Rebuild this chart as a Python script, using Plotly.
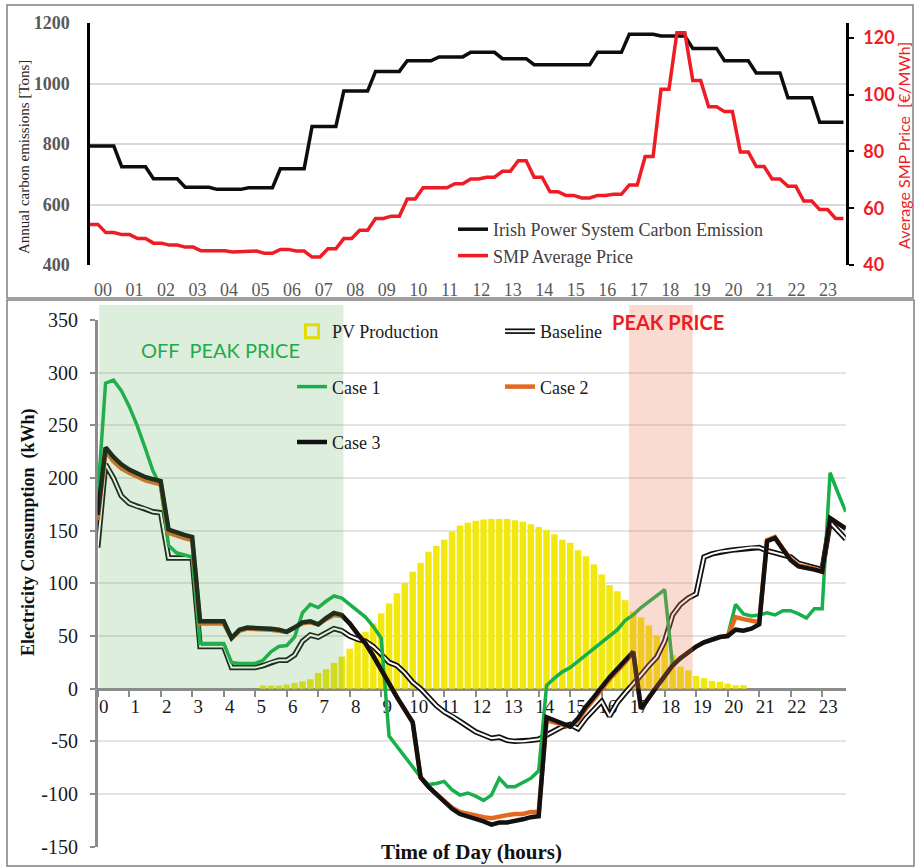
import numpy as np
import plotly.graph_objects as go

# ---------------- top panel: Irish system carbon and SMP price ----------------
hour_labels = ["00", "01", "02", "03", "04", "05", "06", "07", "08", "09", "10", "11",
               "12", "13", "14", "15", "16", "17", "18", "19", "20", "21", "22", "23"]

# hourly system carbon emission (tons)
carbon_tons = [793, 725, 685, 657, 650, 655, 718, 858, 975, 1040, 1075, 1088,
               1103, 1082, 1062, 1062, 1103, 1163, 1157, 1116, 1075, 1035, 953, 872]

# half-hourly SMP average price (EUR/MWh)
smp_price = [54.3, 51.4, 50.7, 49.3, 47.7, 47.0, 46.3, 45.0, 45.0, 44.6, 44.9, 44.1,
             45.5, 44.9, 42.8, 45.7, 49.3, 52.2, 56.4, 57.2, 63.2, 67.2, 67.2, 68.6,
             70.3, 70.9, 73.0, 76.7, 70.9, 65.8, 64.5, 63.6, 64.5, 64.9, 68.2, 78.2,
             101.9, 121.8, 105.0, 95.7, 94.0, 79.8, 74.7, 70.3, 67.7, 62.5, 59.5, 56.4]

# ---------------- bottom panel: quarter-hourly consumption (kWh) ----------------
pv_kwh = [0, 0, 0, 0, 0, 0, 0, 0, 0, 0, 0, 0,
          0, 0, 0, 0, 0, 0, 0, 0, 0, 3, 3, 3,
          4, 5.5, 7, 9, 15, 18.5, 24.5, 30.5, 38, 46, 54, 62,
          71.5, 81, 90.5, 100.5, 111, 119.5, 130, 135.5, 141.5, 149, 155, 157.5,
          159.5, 160.5, 161, 161, 161, 160, 158.5, 156, 153.5, 151, 146.5, 141.5,
          138.5, 131.5, 125.8, 118, 108.5, 98.3, 92.6, 84, 73, 67.6, 60, 50.5,
          43, 31.8, 21, 17.5, 12, 10, 7.4, 6.5, 4.9, 3.3, 3.3, 0,
          0, 0, 0, 0, 0, 0, 0, 0, 0, 0, 0, 0]

baseline_kwh = [134, 213, 200, 183, 176, 173, 171, 168, 167, 124, 124, 124,
                124, 40, 40, 40, 40, 20, 20, 20, 20, 22, 25, 27,
                27, 32, 45, 51, 49, 53, 57, 55, 50, 47, 45, 40,
                33, 25, 22, 15, 6, 0, -8, -16, -22, -26, -31, -36,
                -41, -44, -47, -46, -49, -50, -50, -49, -48, -44, -40, -36,
                -34, -38, -28, -20, -12, -26, -13, -4, 4, 13, 22, 30,
                45, 70, 80, 86, 90, 125, 128, 130, 131, 132, 133, 134,
                134, 131, 129, 127, 125, 119, 117, 115, 113, 158, 150, 142]

case1_kwh = [182, 290, 293, 283, 268, 250, 229, 207, 192, 136, 129, 127,
             125, 43, 43, 43, 43, 25, 24, 24, 24, 27, 35, 40,
             41, 49, 72, 80, 77, 83, 88, 86, 80, 74, 68, 59,
             48, -45, -55, -65, -75, -84, -91, -90, -88, -96, -101, -99,
             -102, -106, -101, -85, -93, -93, -89, -85, -78, 3, 10, 16,
             20, 26, 31, 37, 43, 49, 56, 65, 70, 77, 83, 88,
             94, 22, 29, 35, 40, 44, 47, 49, 50, 80, 71, 69,
             70, 72, 70, 74, 74, 71, 67, 76, 76, 205, 186, 168]

case2_kwh = [160, 226, 216, 209, 205, 201, 198, 196, 194, 148, 145, 143,
             141, 62, 62, 62, 62, 48, 55, 57, 57, 57, 56, 55,
             54, 58, 62, 63, 61, 66, 70, 69, 62, 52, 43, 31,
             17, 5, -8, -20, -32, -84, -93, -100, -107, -113, -117, -119,
             -121, -122, -123, -121, -120, -119, -119, -117, -117, -30, -32, -35,
             -36, -30, -19, -10, 0, 9, 17, 25, 35, -19, -8, 2,
             12, 22, 29, 35, 40, 44, 47, 49, 50, 68, 66, 64,
             63, 141, 144, 133, 123, 117, 116, 114, 111, 162, 157, 152]

case3_kwh = [165, 229, 220, 213, 208, 204, 201, 199, 197, 151, 148, 146,
             144, 64, 64, 64, 64, 48, 56, 58, 58, 58, 57, 56,
             54, 58, 63, 64, 61, 67, 72, 70, 62, 52, 43, 31,
             17, 5, -8, -20, -32, -84, -93, -100, -107, -114, -119, -121,
             -123, -126, -129, -127, -127, -126, -124, -122, -121, -27, -30, -33,
             -36, -28, -17, -8, 2, 11, 19, 27, 35, -19, -8, 2,
             12, 22, 29, 35, 40, 44, 47, 49, 50, 56, 55, 57,
             61, 140, 143, 132, 122, 116, 115, 113, 111, 162, 157, 152]

hour_ticks = list(range(24))
kwh_ticks = [-150, -100, -50, 0, 50, 100, 150, 200, 250, 300, 350]
kwh_tick_text = ["-150", "-100", "-50", "0", "50", "100", "150", "200", "250", "300", "350"]

# quarter-hour time base; hourly / half-hourly records are held over their quarters
quarter = np.arange(96) / 4.0
carbon_q = np.repeat(carbon_tons, 4)
smp_q = np.repeat(smp_price, 2)

W, H = 915, 867


def fx(p):
    return p / W


def fy(p):
    return 1 - p / H


SERIF = "Liberation Serif"
SANS = "Lato"

top_dom_x = [fx(90), fx(846)]
top_dom_y = [fy(265), fy(23)]
bot_dom_x = [fx(97.7), fx(845.8)]
bot_dom_y = [fy(846.7), fy(320)]
bot_range = [-150, 350]
zero_pos = bot_dom_y[0] + (0 - bot_range[0]) / (bot_range[1] - bot_range[0]) * (bot_dom_y[1] - bot_dom_y[0])

fig = go.Figure()

# top panel traces
fig.add_trace(go.Scatter(x=quarter, y=carbon_q, xaxis="x", yaxis="y", mode="lines",
                         line=dict(color="#0d0d0d", width=3.5),
                         name="Irish Power System Carbon Emission", legend="legend4"))
fig.add_trace(go.Scatter(x=quarter, y=smp_q, xaxis="x", yaxis="y2", mode="lines",
                         line=dict(color="#ee1c25", width=3.5),
                         name="SMP Average Price", legend="legend4"))

# bottom panel traces
fig.add_trace(go.Bar(x=quarter, y=pv_kwh, xaxis="x2", yaxis="y3", width=0.205,
                     marker=dict(color="#f2e80d", line=dict(width=0)),
                     name="PV Production", legendgroup="pv", showlegend=False, legend="legend"))
fig.add_trace(go.Scatter(x=[None], y=[None], xaxis="x2", yaxis="y3", mode="markers",
                         marker=dict(symbol="square-open", size=13, color="#e3dc00",
                                     line=dict(width=3, color="#e3dc00")),
                         name="PV Production", legendgroup="pv", legend="legend"))
fig.add_trace(go.Scatter(x=quarter, y=baseline_kwh, xaxis="x2", yaxis="y3", mode="lines",
                         line=dict(color="#111111", width=5.5),
                         name="Baseline", legendgroup="base", legend="legend2"))
fig.add_trace(go.Scatter(x=quarter, y=baseline_kwh, xaxis="x2", yaxis="y3", mode="lines",
                         line=dict(color="#ffffff", width=2),
                         name=" ", legendgroup="base", legend="legend3"))
fig.add_trace(go.Scatter(x=quarter, y=case1_kwh, xaxis="x2", yaxis="y3", mode="lines",
                         line=dict(color="#17b04a", width=3.5),
                         name="Case 1", legendgroup="c1", legend="legend"))
fig.add_trace(go.Scatter(x=quarter, y=case2_kwh, xaxis="x2", yaxis="y3", mode="lines",
                         line=dict(color="#e2691f", width=4.5),
                         name="Case 2", legendgroup="c2", legend="legend2"))
fig.add_trace(go.Scatter(x=quarter, y=case3_kwh, xaxis="x2", yaxis="y3", mode="lines",
                         line=dict(color="#111111", width=4.5),
                         name="Case 3", legendgroup="c3", legend="legend"))

legend_font = dict(family=SERIF, size=18, color="#1a1a1a")
bottom_legend = dict(xanchor="left", yanchor="top", bgcolor="rgba(0,0,0,0)",
                     borderwidth=0, font=legend_font, tracegroupgap=29,
                     traceorder="grouped", itemwidth=30, y=fy(313))

fig.update_layout(
    width=W, height=H,
    margin=dict(l=0, r=0, t=0, b=0, autoexpand=False),
    paper_bgcolor="white", plot_bgcolor="rgba(0,0,0,0)",
    barmode="overlay",
    hovermode=False,
    xaxis=dict(domain=top_dom_x, anchor="y", range=[0, 23.83], automargin=False,
               tickvals=[0.41 + 0.9935 * k for k in range(24)], ticktext=hour_labels,
               ticks="", showgrid=False, zeroline=False, showline=False,
               tickfont=dict(family=SERIF, size=18, color="#595959"),
               ticklabelstandoff=12),
    yaxis=dict(domain=top_dom_y, anchor="x", range=[400, 1200], dtick=200, automargin=False,
               showline=True, linecolor="#000000", linewidth=2.5,
               showgrid=True, gridcolor="#d9d9d9", gridwidth=1.5, zeroline=False,
               ticks="", tickfont=dict(family=SERIF, size=18, color="#595959", weight="bold"),
               ticklabelstandoff=14),
    yaxis2=dict(overlaying="y", anchor="x", side="right", range=[40, 125.2], automargin=False,
                tickvals=[40, 60, 80, 100, 120],
                showline=True, linecolor="#000000", linewidth=2.5,
                ticks="outside", ticklen=5, tickcolor="#000000", tickwidth=2,
                showgrid=False, zeroline=False,
                tickfont=dict(family=SANS, size=18, color="#ee1c25", weight="bold"),
                ticklabelstandoff=6),
    xaxis2=dict(domain=bot_dom_x, anchor="free", position=zero_pos, range=[0, 23.75],
                automargin=False,
                tickvals=hour_ticks, ticktext=[str(h) for h in hour_ticks],
                ticks="outside", ticklen=6, tickwidth=1.5, tickcolor="#8c8c8c",
                showline=True, linecolor="#8c8c8c", linewidth=3,
                showgrid=False, zeroline=False, layer="below traces",
                tickfont=dict(family=SERIF, size=19, color="#1a1a1a"),
                ticklabelshift=6, ticklabelstandoff=-6),
    yaxis3=dict(domain=bot_dom_y, anchor="x2", range=bot_range, automargin=False,
                tickvals=kwh_ticks, ticktext=kwh_tick_text,
                showline=True, linecolor="#8c8c8c", linewidth=2.5,
                ticks="outside", ticklen=5, tickcolor="#8c8c8c", tickwidth=1.5,
                showgrid=True, gridcolor="#e4e4e4", gridwidth=1.5, zeroline=False,
                layer="below traces",
                tickfont=dict(family=SERIF, size=20, color="#1a1a1a"),
                ticklabelstandoff=8),
    legend=dict(bottom_legend, x=fx(292)),
    legend2=dict(bottom_legend, x=fx(500)),
    legend3=dict(bottom_legend, x=fx(500)),
    legend4=dict(x=fx(453), y=fy(211), xanchor="left", yanchor="top",
                 bgcolor="rgba(0,0,0,0)", borderwidth=0, itemwidth=30,
                 font=dict(family=SERIF, size=18, color="#404040")),
)

# panel frames, price bands
fig.add_shape(type="rect", xref="paper", yref="paper", x0=fx(7), x1=fx(913), y0=fy(298), y1=fy(5),
              line=dict(color="#808080", width=1.5), layer="below")
fig.add_shape(type="rect", xref="paper", yref="paper", x0=fx(7), x1=fx(914), y0=fy(866), y1=fy(300),
              line=dict(color="#808080", width=1.5), layer="below")
fig.add_shape(type="rect", xref="x2", yref="y3 domain", x0=0.05, x1=7.8, y0=0.3, y1=1.0285,
              fillcolor="#57a857", opacity=0.2, line=dict(width=0), layer="above")
fig.add_shape(type="rect", xref="x2", yref="y3 domain", x0=16.87, x1=18.89, y0=0.3, y1=1.0285,
              fillcolor="#ee7a55", opacity=0.27, line=dict(width=0), layer="above")

annotations = [
    dict(text="Annual carbon emissions [Tons]", x=fx(24), y=fy(157), textangle=-90,
         font=dict(family=SERIF, size=15, color="#262626")),
    dict(text="Average SMP Price  [€/MWh]", x=fx(903), y=fy(146), textangle=-90,
         font=dict(family=SANS, size=16, color="#ee1c25")),
    dict(text="Electricity Consumption  (kWh)", x=fx(28), y=fy(532), textangle=-90,
         font=dict(family=SERIF, size=18, color="#111111", weight="bold")),
    dict(text="Time of Day (hours)", x=fx(471), y=fy(852),
         font=dict(family=SERIF, size=21, color="#111111", weight="bold")),
    dict(text="OFF  PEAK PRICE", x=fx(220), y=fy(350),
         font=dict(family=SANS, size=20, color="#1eaa4a")),
    dict(text="PEAK PRICE", x=fx(668), y=fy(322),
         font=dict(family=SANS, size=20, color="#ee1c25", weight="bold")),
]
for a in annotations:
    fig.add_annotation(xref="paper", yref="paper", showarrow=False,
                       xanchor="center", yanchor="middle", **a)

fig.write_html("out.html")
